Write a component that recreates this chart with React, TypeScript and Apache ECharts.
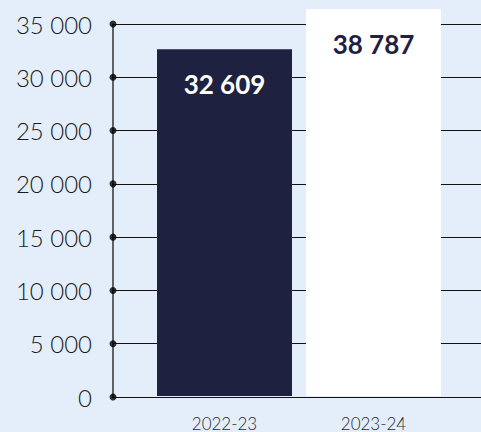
import React, { useEffect, useRef } from "react";
import * as echarts from "echarts";

const categories = ["2022-23", "2023-24"];
const values = [32609, 38787];
const barColors = ["#1E2140", "#FFFFFF"];
const labelColors = ["#FFFFFF", "#1E2140"];
const yTicks = [0, 5000, 10000, 15000, 20000, 25000, 30000, 35000];
const yMax = 35000;
const yInterval = 5000;
const barClipMax = 36400;

const fmt = (v: number) => String(v).replace(/\B(?=(\d{3})+(?!\d))/g, " ");

export default function App() {
  const ref = useRef<HTMLDivElement>(null);
  useEffect(() => {
    if (!ref.current) return;
    const chart = echarts.init(ref.current, null, { renderer: "svg" });
    const font = "Lato, 'Noto Sans', sans-serif";
    chart.setOption({
      animation: false,
      backgroundColor: "#E3EEFA",
      textStyle: { fontFamily: font },
      grid: [
        { left: 113, right: 0, top: 24, bottom: 35 },
        { left: 150, right: 33, top: 9, bottom: 35 },
      ],
      xAxis: [
        {
          type: "value",
          gridIndex: 0,
          min: 0,
          max: 1,
          axisLine: { show: true, onZero: false, lineStyle: { color: "#111", width: 1 } },
          axisTick: { show: false },
          axisLabel: { show: false },
          splitLine: { show: false },
        },
        {
          type: "category",
          gridIndex: 1,
          data: categories,
          axisLine: { show: false },
          axisTick: { show: false },
          axisLabel: { color: "#2a2a2a", fontSize: 17, fontWeight: 300, margin: 19, fontFamily: font },
          splitLine: { show: false },
        },
      ],
      yAxis: [
        {
          type: "value",
          gridIndex: 0,
          min: 0,
          max: yMax,
          interval: yInterval,
          axisLine: { show: true, lineStyle: { color: "#333", width: 1.5 } },
          axisTick: { show: false },
          axisLabel: {
            color: "#1a1a1a",
            fontSize: 24,
            fontWeight: 300,
            margin: 21,
            fontFamily: font,
            formatter: (v: number) => fmt(v),
          },
          splitLine: { show: true, lineStyle: { color: "#111", width: 1 } },
        },
        {
          type: "value",
          gridIndex: 1,
          min: 0,
          max: barClipMax,
          show: false,
          splitLine: { show: false },
        },
      ],
      series: [
        {
          type: "bar",
          xAxisIndex: 1,
          yAxisIndex: 1,
          barWidth: 135,
          clip: true,
          z: 3,
          data: values.map((v, i) => ({
            value: v,
            itemStyle: { color: barColors[i] },
            label: { color: labelColors[i] },
          })),
          label: {
            show: true,
            position: "insideTop",
            distance: 22,
            fontSize: 26,
            fontWeight: "bold",
            fontFamily: font,
            formatter: (p: any) => fmt(p.value),
          },
        },
        {
          type: "scatter",
          xAxisIndex: 0,
          yAxisIndex: 0,
          symbol: "circle",
          symbolSize: 7,
          clip: false,
          z: 5,
          itemStyle: { color: "#000" },
          data: yTicks.map((t) => [0, t]),
        },
      ],
    });
    return () => chart.dispose();
  }, []);
  return (
    <div
      ref={ref}
      style={{ position: "fixed", left: 0, top: 0, width: 481, height: 432 }}
    />
  );
}
